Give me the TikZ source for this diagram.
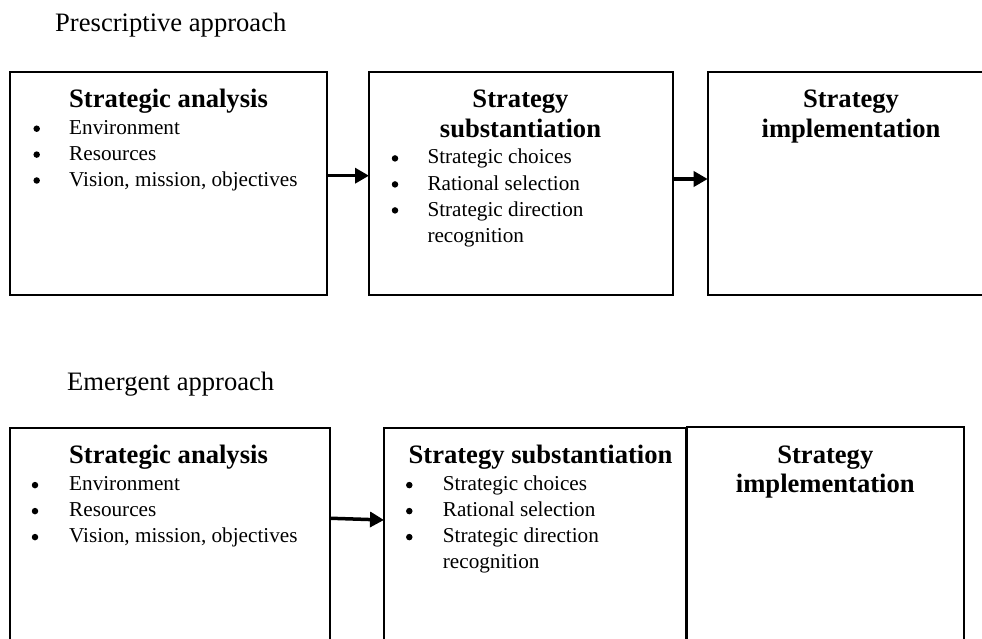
\documentclass[tikz,border=0pt]{standalone}
\usepackage{fontspec}
\setmainfont{Liberation Serif}
\usetikzlibrary{arrows.meta}
\newcommand{\myBody}{\fontsize{21.2pt}{25.9pt}\selectfont}
\newcommand{\myHead}{\fontsize{26.6pt}{30pt}\selectfont\bfseries}
\newcommand{\myTitle}{\fontsize{26.6pt}{30pt}\selectfont}
\begin{document}
\begin{tikzpicture}[x=1pt,y=-1pt,
  box/.style={draw,line width=2.3pt,inner sep=0pt,outer sep=0pt},
  arr/.style={line width=3.5pt,-{Triangle[length=14pt,width=15pt]}},
  head/.style={anchor=base,inner sep=0pt,font=\myHead},
  itm/.style={anchor=base west,inner sep=0pt,font=\myBody},
  bul/.style={circle,fill=black,inner sep=0pt,minimum size=6.5pt},
  ttl/.style={anchor=base west,inner sep=0pt,font=\myTitle}]
\useasboundingbox (0,0) rectangle (982,639);
\fill[white] (0,0) rectangle (982,639);
\clip (0,0) rectangle (982,639);

% titles
\node[ttl] (t1) at (55,32) {Prescriptive approach};
\node[ttl] (t2) at (67,390) {Emergent approach};

% top row boxes
\node[box,minimum width=317pt,minimum height=223pt] (A1) at (168.5,183.2) {};
\node[box,minimum width=303.7pt,minimum height=223pt] (A2) at (520.85,183.2) {};
\node[box,minimum width=286.3pt,minimum height=223pt] (A3) at (850.85,183.2) {};

% bottom row boxes
\node[box,minimum width=320pt,minimum height=231.7pt] (B1) at (170,544.15) {};
\node[box,minimum width=302pt,minimum height=231.7pt] (B2) at (535,544.15) {};
\node[box,minimum width=277.6pt,minimum height=233.3pt] (B3) at (825.5,543.35) {};

% A1 text
\node[head] (a1h) at (168.5,107.3) {Strategic analysis};
\node[bul] (a1b1) at (36.7,128.7) {};
\node[bul] (a1b2) at (36.7,154.6) {};
\node[bul] (a1b3) at (36.7,180.5) {};
\node[itm] (a1i1) at (69,134.3) {Environment};
\node[itm] (a1i2) at (69,160.2) {Resources};
\node[itm] (a1i3) at (69,186.1) {Vision, mission, objectives};

% A2 text
\node[head] (a2h1) at (520.5,107.3) {Strategy};
\node[head] (a2h2) at (520.5,137.3) {substantiation};
\node[bul] (a2b1) at (395,158.4) {};
\node[bul] (a2b2) at (395,184.4) {};
\node[bul] (a2b3) at (395,210.4) {};
\node[itm] (a2i1) at (427.3,164) {Strategic choices};
\node[itm] (a2i2) at (427.3,190) {Rational selection};
\node[itm] (a2i3) at (427.3,216) {Strategic direction};
\node[itm] (a2i4) at (427.3,242) {recognition};

% A3 text
\node[head] (a3h1) at (851,107.3) {Strategy};
\node[head] (a3h2) at (851,138) {implementation};

% B1 text
\node[head] (b1h) at (168.5,463.3) {Strategic analysis};
\node[bul] (b1b1) at (35,485.1) {};
\node[bul] (b1b2) at (35,511.1) {};
\node[bul] (b1b3) at (35,537.1) {};
\node[itm] (b1i1) at (69,490.7) {Environment};
\node[itm] (b1i2) at (69,516.7) {Resources};
\node[itm] (b1i3) at (69,542.7) {Vision, mission, objectives};

% B2 text
\node[head] (b2h) at (540.5,463.3) {Strategy substantiation};
\node[bul] (b2b1) at (409.3,485.1) {};
\node[bul] (b2b2) at (409.3,511.1) {};
\node[bul] (b2b3) at (409.3,537.1) {};
\node[itm] (b2i1) at (442.7,490.7) {Strategic choices};
\node[itm] (b2i2) at (442.7,516.7) {Rational selection};
\node[itm] (b2i3) at (442.7,542.7) {Strategic direction};
\node[itm] (b2i4) at (442.7,568.7) {recognition};

% B3 text
\node[head] (b3h1) at (825.3,463.3) {Strategy};
\node[head] (b3h2) at (825.3,492.7) {implementation};

% arrows
\draw[arr] ([yshift=7.5pt]A1.east) -- ([yshift=7.5pt]A2.west);
\draw[arr] ([yshift=4.2pt]A2.east) -- ([yshift=4.2pt]A3.west);
\draw[arr] ([yshift=25.9pt]B1.east) -- ([yshift=24.15pt]B2.west);
\end{tikzpicture}
\end{document}
